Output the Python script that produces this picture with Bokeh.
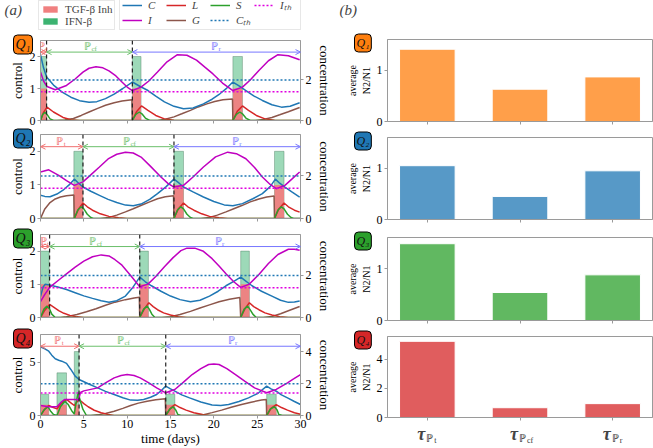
from bokeh.plotting import figure
from bokeh.models import (Range1d, LinearAxis, FixedTicker, Span, Arrow, OpenHead,
                          Label, Legend, LegendItem, Title, CustomJSTickFormatter)
from bokeh.layouts import row, column
from bokeh.embed import file_html
from bokeh.resources import INLINE

NAN = float("nan")

# ---------------------------------------------------------------- data
TIME_TICKS = [0, 5, 10, 15, 20, 25, 30]
T_END = 30
C_TH = 2.0
I_TH = 1.42

# Q1 ---------------------------------------------------------------
Q1_C = [(0, 3.25), (0.35, 2.6), (0.7, 2.15), (1.5, 1.75), (2.5, 1.4), (3.5, 1.15), (4.5, 0.98),
        (5.6, 0.9), (6.5, 0.93), (7.5, 1.08), (8.5, 1.3), (9.5, 1.58), (10.6, 1.9), (11.5, 1.68),
        (12.4, 1.48), (13.3, 1.2), (14.3, 0.92), (15.4, 0.7), (16.5, 0.58), (17.6, 0.62),
        (18.8, 0.82), (19.8, 1.05), (20.7, 1.32), (21.5, 1.6), (22.2, 1.9), (23.0, 1.68),
        (23.7, 1.48), (24.6, 1.22), (25.6, 0.99), (26.7, 0.78), (27.8, 0.66), (28.8, 0.7), (29.9, 0.88)]
Q1_I = [(0, 2.4), (0.35, 1.95), (0.75, 1.68), (1.7, 1.52), (3.0, 1.73), (4.0, 2.05), (4.9, 2.39),
        (5.6, 2.58), (6.4, 2.65), (7.2, 2.6), (7.9, 2.45), (8.7, 2.2), (9.4, 1.9), (10.0, 1.65),
        (10.6, 1.48), (11.6, 1.65), (12.5, 1.95), (13.5, 2.39), (14.6, 2.9), (15.8, 3.25),
        (16.9, 3.22), (18.0, 2.98), (19.0, 2.62), (19.9, 2.3), (21.0, 1.85), (22.2, 1.48),
        (23.3, 1.65), (24.2, 2.0), (25.2, 2.47), (26.3, 2.95), (27.4, 3.25), (28.6, 3.2), (29.9, 3.0)]
Q1_L = [(0, 0), (0.35, 0.4), (0.75, 0.66), (1.5, 0.42), (2.6, 0.15), (3.5, 0.04), (4.5, 0),
        (10.6, 0), (11.1, 0.45), (11.65, 0.72), (12.4, 0.5), (13.3, 0.25), (14.3, 0.08), (15.4, 0.01),
        (16.5, 0), (22.2, 0), (22.7, 0.45), (23.3, 0.72), (24.0, 0.5), (24.9, 0.25), (25.9, 0.08),
        (27.0, 0.01), (28.0, 0), (30, 0)]
Q1_S = [(0, 0), (0.25, 0.3), (0.5, 0.4), (0.75, 0.3), (1.1, 0.08), (1.5, 0), (10.6, 0), (11.0, 0.3),
        (11.4, 0.42), (11.7, 0.33), (12.1, 0.12), (12.6, 0), (22.2, 0), (22.6, 0.3), (23.0, 0.42),
        (23.3, 0.33), (23.7, 0.12), (24.2, 0), (30, 0)]
Q1_G = [(0, 0), (1.9, 0), (2.8, 0.03), (3.8, 0.1), (4.7, 0.25), (5.6, 0.42), (6.6, 0.6), (7.5, 0.75),
        (8.5, 0.88), (9.4, 0.96), (10.55, 1.02), (10.6, 0), (13.5, 0), (14.4, 0.06), (15.4, 0.18),
        (16.3, 0.33), (17.3, 0.5), (18.2, 0.67), (19.2, 0.82), (20.1, 0.94), (21.05, 1.02),
        (22.15, 1.06), (22.2, 0), (24.8, 0), (25.7, 0.05), (26.7, 0.15), (27.6, 0.28), (28.6, 0.43),
        (29.9, 0.64)]
Q1_PULSE_START = [0.0, 10.6, 22.2]
Q1_PULSE_END = [0.7, 11.6, 23.3]
Q1_IFN = [2, 2, 2]
Q1_TGF = [1, 1, 1]
Q1_SWITCH = [0.7, 10.6]

# Q2 ---------------------------------------------------------------
Q2_C = [(0, 1.09), (0.5, 1.04), (1.1, 1.02), (1.9, 1.15), (2.6, 1.33), (3.3, 1.58), (3.9, 1.85),
        (4.4, 1.66), (4.9, 1.48), (5.8, 1.28), (6.8, 1.09), (7.8, 0.9), (8.8, 0.75), (9.8, 0.63),
        (10.7, 0.6), (11.6, 0.68), (12.6, 0.9), (13.5, 1.17), (14.5, 1.5), (15.4, 1.85), (16.0, 1.66),
        (16.5, 1.48), (17.6, 1.25), (18.8, 1.01), (20.0, 0.8), (21.2, 0.64), (22.2, 0.6), (23.3, 0.7),
        (24.5, 0.93), (25.6, 1.17), (26.5, 1.5), (27.1, 1.85), (27.6, 1.66), (28.2, 1.48),
        (29.0, 1.25), (29.9, 1.01)]
Q2_I = [(0, 2.19), (0.95, 2.29), (2.1, 2.03), (3.0, 1.78), (3.9, 1.56), (4.9, 1.72), (5.8, 2.05),
        (6.8, 2.42), (7.8, 2.8), (8.8, 3.02), (9.8, 3.12), (10.7, 3.08), (11.6, 2.89), (12.7, 2.45),
        (13.9, 1.95), (14.7, 1.65), (15.4, 1.48), (16.5, 1.56), (17.6, 1.95), (18.8, 2.42),
        (20.2, 2.9), (21.6, 3.12), (22.6, 3.05), (23.7, 2.81), (24.7, 2.4), (25.6, 1.95), (26.5, 1.6),
        (27.2, 1.4), (28.2, 1.56), (29.0, 1.85), (29.9, 2.19)]
Q2_L = [(0, 0), (3.9, 0), (4.4, 0.45), (4.9, 0.73), (5.4, 0.55), (6.0, 0.39), (6.9, 0.22), (7.9, 0.1),
        (9.0, 0.03), (10, 0), (15.4, 0), (15.9, 0.45), (16.5, 0.73), (17.0, 0.55), (17.7, 0.39),
        (18.6, 0.22), (19.5, 0.1), (20.6, 0.03), (21.6, 0), (27.0, 0), (27.5, 0.45), (28.1, 0.73),
        (28.6, 0.55), (29.3, 0.39), (29.9, 0.3)]
Q2_S = [(0, 0), (3.9, 0), (4.3, 0.4), (4.7, 0.55), (5.0, 0.45), (5.4, 0.2), (5.8, 0.05), (6.1, 0),
        (15.4, 0), (15.8, 0.4), (16.2, 0.55), (16.5, 0.45), (16.9, 0.2), (17.3, 0.05), (17.6, 0),
        (27.0, 0), (27.4, 0.4), (27.8, 0.55), (28.1, 0.45), (28.5, 0.2), (28.9, 0.05), (29.2, 0), (30, 0)]
Q2_G = [(0, 0), (0.5, 0.45), (1.1, 0.75), (1.7, 0.92), (2.3, 1.01), (3.0, 1.07), (3.85, 1.1),
        (3.9, 0), (6.9, 0), (7.9, 0.05), (8.8, 0.16), (9.8, 0.31), (10.7, 0.46), (11.65, 0.62),
        (12.6, 0.78), (13.5, 0.93), (14.4, 1.02), (15.35, 1.07), (15.4, 0), (18.5, 0), (19.5, 0.05),
        (20.4, 0.16), (21.4, 0.31), (22.3, 0.46), (23.3, 0.62), (24.2, 0.78), (25.2, 0.92),
        (26.1, 1.01), (26.95, 1.06), (27.0, 0), (30, 0)]
Q2_PULSE_START = [3.85, 15.4, 27.0]
Q2_PULSE_END = [4.9, 16.5, 28.1]
Q2_IFN = [2, 2, 2]
Q2_TGF = [1, 1, 1]
Q2_SWITCH = [4.9, 15.4]

# Q3 ---------------------------------------------------------------
Q3_C = [(0, 1.0), (0.3, 1.45), (0.55, 1.58), (1.05, 1.55), (2.0, 1.45), (3.0, 1.33), (4.0, 1.18),
        (5.0, 1.03), (6.0, 0.91), (7.0, 0.8), (7.9, 0.73), (8.8, 0.8), (9.8, 1.02), (10.6, 1.4),
        (11.45, 1.92), (12.1, 1.7), (12.8, 1.51), (13.9, 1.25), (15.0, 1.02), (16.1, 0.85),
        (17.3, 0.75), (18.4, 0.82), (19.5, 1.02), (20.5, 1.25), (21.4, 1.51), (22.3, 1.72),
        (23.1, 1.92), (23.8, 1.7), (24.4, 1.51), (25.5, 1.25), (26.7, 1.02), (27.7, 0.82),
        (28.6, 0.72), (29.3, 0.74), (29.9, 0.78)]
Q3_I = [(0, 0.75), (0.5, 1.1), (1.05, 1.43), (2.0, 1.75), (3.0, 2.08), (4.0, 2.4), (5.0, 2.68),
        (6.0, 2.89), (7.0, 2.98), (7.9, 2.93), (8.6, 2.75), (9.4, 2.49), (10.4, 2.0), (11.45, 1.46),
        (12.4, 1.59), (13.3, 1.95), (14.3, 2.41), (15.3, 2.85), (16.2, 3.18), (16.9, 3.3), (17.8, 3.3),
        (18.8, 3.15), (19.8, 2.8), (20.6, 2.45), (21.4, 2.08), (22.3, 1.7), (23.1, 1.43), (24.1, 1.59),
        (25.2, 2.05), (26.3, 2.57), (27.4, 3.0), (28.6, 3.25), (29.3, 3.25), (29.9, 3.2)]
Q3_L = [(0, 0), (0.5, 0.35), (1.05, 0.62), (1.6, 0.47), (2.1, 0.33), (2.7, 0.2), (3.4, 0.1),
        (4.2, 0.03), (5.0, 0), (11.45, 0), (12.0, 0.42), (12.5, 0.7), (13.0, 0.52), (13.5, 0.37),
        (14.2, 0.22), (15.0, 0.12), (15.9, 0.04), (16.9, 0), (23.1, 0), (23.6, 0.42), (24.1, 0.7),
        (24.6, 0.52), (25.2, 0.37), (25.9, 0.22), (26.7, 0.12), (27.6, 0.04), (28.6, 0), (30, 0)]
Q3_S = [(0, 0), (0.4, 0.4), (0.75, 0.54), (1.05, 0.4), (1.3, 0.16), (1.7, 0), (11.45, 0), (11.9, 0.4),
        (12.3, 0.54), (12.55, 0.4), (12.85, 0.16), (13.2, 0), (23.1, 0), (23.5, 0.4), (23.9, 0.54),
        (24.15, 0.4), (24.5, 0.16), (24.9, 0), (30, 0)]
Q3_G = [(0, 0), (2.3, 0), (3.0, 0.04), (4.2, 0.14), (5.3, 0.27), (6.4, 0.42), (7.5, 0.58), (8.6, 0.73),
        (9.8, 0.85), (10.8, 0.93), (11.4, 0.96), (11.45, 0), (14.0, 0), (15.0, 0.04), (16.1, 0.14),
        (17.3, 0.29), (18.4, 0.45), (19.5, 0.6), (20.6, 0.75), (21.8, 0.87), (23.0, 0.95), (23.1, 0),
        (25.7, 0), (26.7, 0.05), (27.7, 0.18), (28.6, 0.32), (29.9, 0.52)]
Q3_PULSE_START = [0.0, 11.45, 23.1]
Q3_PULSE_END = [1.0, 12.45, 24.1]
Q3_IFN = [2, 2, 2]
Q3_TGF = [1, 1, 1]
Q3_SWITCH = [1.05, 11.45]

# Q4 ---------------------------------------------------------------
Q4_C = [(0, 4.33), (0.5, 4.2), (0.95, 4.05), (1.3, 3.8), (1.7, 3.57), (2.1, 3.48), (2.45, 3.42),
        (3.0, 3.28), (3.5, 2.9), (4.0, 2.48), (4.45, 2.27), (5.5, 2.0), (6.6, 1.74), (7.5, 1.52),
        (8.5, 1.32), (9.5, 1.12), (10.4, 0.97), (11.2, 0.96), (11.9, 1.01), (12.7, 1.15), (13.4, 1.32),
        (14.0, 1.6), (14.45, 1.85), (15.0, 1.68), (15.5, 1.53), (16.3, 1.3), (17.2, 1.11), (18.5, 0.85),
        (19.8, 0.66), (20.8, 0.63), (21.7, 0.69), (22.9, 0.88), (24.0, 1.11), (25.1, 1.4), (26.1, 1.85),
        (26.6, 1.68), (27.2, 1.53), (27.8, 1.3), (28.5, 1.11), (29.3, 0.88), (30.0, 0.69)]
Q4_I = [(0, 0.63), (0.95, 0.55), (1.9, 0.55), (2.4, 0.85), (2.8, 1.01), (3.5, 1.0), (4.0, 1.01),
        (4.4, 0.97), (4.6, 1.45), (5.0, 1.55), (6.6, 1.74), (7.5, 2.05), (8.5, 2.37), (9.3, 2.52),
        (10.0, 2.58), (10.8, 2.52), (11.5, 2.37), (12.5, 2.05), (13.4, 1.74), (14.45, 1.43),
        (15.5, 1.64), (16.5, 2.1), (17.5, 2.58), (18.5, 2.95), (19.4, 3.21), (20.0, 3.25), (20.6, 3.21),
        (21.5, 2.95), (22.5, 2.58), (23.6, 2.15), (24.7, 1.74), (26.1, 1.43), (27.2, 1.64),
        (28.5, 2.06), (29.2, 2.3), (30.0, 2.58)]
Q4_L = [(0, 0), (0.5, 0.4), (0.95, 0.63), (1.4, 0.52), (1.9, 0.42), (2.4, 0.75), (3.0, 1.01),
        (3.5, 0.8), (3.9, 0.63), (4.2, 0.85), (4.45, 1.01), (5.0, 0.75), (5.5, 0.55), (6.2, 0.33),
        (7.0, 0.17), (7.8, 0.06), (8.5, 0), (14.45, 0), (15.0, 0.45), (15.5, 0.69), (16.1, 0.5),
        (16.8, 0.34), (17.7, 0.17), (18.7, 0.06), (19.6, 0), (26.1, 0), (26.6, 0.45), (27.2, 0.69),
        (27.8, 0.5), (28.5, 0.34), (29.3, 0.17), (30, 0.08)]
Q4_S = [(0, 0), (0.4, 0.35), (0.87, 0.55), (1.2, 0.25), (1.5, 0.06), (1.9, 0), (2.3, 0.55), (2.8, 0.9),
        (3.2, 0.69), (3.6, 0.3), (3.9, 0.1), (4.1, 0.8), (4.35, 1.43), (4.6, 0.9), (4.9, 0.38),
        (5.3, 0), (14.45, 0), (14.9, 0.4), (15.3, 0.55), (15.6, 0.35), (15.85, 0.06), (16.2, 0),
        (26.1, 0), (26.5, 0.4), (27.0, 0.55), (27.3, 0.35), (27.5, 0.06), (27.9, 0), (30, 0)]
Q4_G = [(0, 0), (5.8, 0), (6.6, 0.04), (7.5, 0.13), (8.5, 0.27), (9.5, 0.45), (10.4, 0.63),
        (11.3, 0.78), (12.3, 0.9), (13.3, 0.99), (14.4, 1.05), (14.45, 0), (17.8, 0), (18.7, 0.04),
        (19.8, 0.18), (20.9, 0.34), (22.0, 0.52), (23.2, 0.69), (24.3, 0.84), (25.5, 0.97),
        (26.05, 1.01), (26.1, 0), (30, 0)]
Q4_PULSE_START = [0.0, 1.9, 3.9, 14.45, 26.1]
Q4_PULSE_END = [0.95, 3.0, 4.45, 15.5, 27.2]
Q4_IFN = [2, 4, 6, 2, 2]
Q4_TGF = [1, 1, 1, 1, 1]
Q4_SWITCH = [4.45, 14.45]

CONTROL_MAX = [2.5, 2.5, 2.5, 7.6]
CONC_MAX = [3.95, 3.95, 3.95, 5.1]
CONTROL_TICKS = [[0, 1, 2], [0, 1, 2], [0, 1, 2], [0, 5]]
CONC_TICKS = [[0, 2], [0, 2], [0, 2], [0, 2, 4]]

# bar charts (b)
BAR_X = [0, 1, 2]
BAR_SUBS = ["t", "cf", "r"]
BAR_Q1 = [1.41, 0.63, 0.87]
BAR_Q2 = [1.05, 0.45, 0.95]
BAR_Q3 = [1.48, 0.54, 0.88]
BAR_Q4 = [5.22, 0.67, 0.95]
BAR_MAX = [1.6, 1.6, 1.6, 5.55]
BAR_TICKS = [[0, 1], [0, 1], [0, 1], [0, 2, 4]]

PANELS = [
    dict(C=Q1_C, I=Q1_I, L=Q1_L, S=Q1_S, G=Q1_G, ps=Q1_PULSE_START, pe=Q1_PULSE_END,
         ifn=Q1_IFN, tgf=Q1_TGF, sw=Q1_SWITCH, bars=BAR_Q1),
    dict(C=Q2_C, I=Q2_I, L=Q2_L, S=Q2_S, G=Q2_G, ps=Q2_PULSE_START, pe=Q2_PULSE_END,
         ifn=Q2_IFN, tgf=Q2_TGF, sw=Q2_SWITCH, bars=BAR_Q2),
    dict(C=Q3_C, I=Q3_I, L=Q3_L, S=Q3_S, G=Q3_G, ps=Q3_PULSE_START, pe=Q3_PULSE_END,
         ifn=Q3_IFN, tgf=Q3_TGF, sw=Q3_SWITCH, bars=BAR_Q3),
    dict(C=Q4_C, I=Q4_I, L=Q4_L, S=Q4_S, G=Q4_G, ps=Q4_PULSE_START, pe=Q4_PULSE_END,
         ifn=Q4_IFN, tgf=Q4_TGF, sw=Q4_SWITCH, bars=BAR_Q4),
]

# ---------------------------------------------------------------- style
SERIF = "Liberation Serif"
SPINE = "#9a9a9a"
C_COL, I_COL, L_COL, G_COL, S_COL = "#1f77b4", "#c000c0", "#d62728", "#8c564b", "#2ca02c"
ITH_COL = "#e000e0"
TGF_COL, IFN_COL = "#f08080", "#3cb371"
BADGE = ["#ff7f0e", "#1f77b4", "#2ca02c", "#d62728"]
SUBS = ["₁", "₂", "₃", "₄"]
PHASE_COL = ["#f07070", "#6cbf6c", "#7777ff"]

TOTAL_W = 653
HEADER_H = 31
LEFT_W, RIGHT_W = 334, 319
L_TOP = [9, 7, 9, 10]
L_FRAME = [80, 84, 83, 81]
L_BOT = [7, 7, 7, 33]
R_TOP = [8, 9, 11, 9]
R_FRAME = [82, 82, 83, 81]
R_BOT = [7, 7, 7, 7]
FOOTER_H = 24


def xs(pts):
    return [a for a, _ in pts]


def ys(pts):
    return [b for _, b in pts]


def style_axis(ax):
    ax.major_label_text_font = SERIF
    ax.major_label_text_font_size = "12px"
    ax.major_label_text_color = "black"
    ax.axis_label_text_font = SERIF
    ax.axis_label_text_font_size = "13px"
    ax.axis_label_text_font_style = "normal"
    ax.axis_label_text_color = "black"
    ax.axis_label_standoff = 2
    ax.major_label_standoff = 2
    ax.major_tick_out = 3
    ax.major_tick_in = 0
    ax.minor_tick_out = 0
    ax.minor_tick_in = 0
    ax.axis_line_color = SPINE
    ax.major_tick_line_color = SPINE


def hide_labels(ax):
    ax.formatter = CustomJSTickFormatter(code="return ''")
    ax.major_label_text_font_size = "1px"
    ax.major_label_standoff = 0


def badge(k, offset, size, standoff):
    return Title(text="Q" + SUBS[k], align="left", vertical_align="bottom", offset=offset,
                 standoff=standoff, text_font=SERIF, text_font_style="italic",
                 text_font_size=size, text_color="#111111",
                 background_fill_color=BADGE[k], background_fill_alpha=1.0,
                 border_line_color="black", border_line_width=1, padding=2, border_radius=4)


# ---------------------------------------------------------------- header (legends, panel letters)
hdr = figure(width=TOTAL_W, height=HEADER_H, x_range=Range1d(0, TOTAL_W), y_range=Range1d(0, HEADER_H),
             output_backend="svg", toolbar_location=None, title=None, min_border=0,
             x_axis_location=None, y_axis_location=None)
hdr.outline_line_color = None
hdr.grid.visible = False
# legend proxies (NaN data: they draw nothing in the plot area)
d_tgf = hdr.quad(left=[NAN], right=[NAN], bottom=[NAN], top=[NAN], fill_color=TGF_COL, line_color=None)
d_ifn = hdr.quad(left=[NAN], right=[NAN], bottom=[NAN], top=[NAN], fill_color=IFN_COL, line_color=None)
d_c = hdr.line(x=[NAN], y=[NAN], line_color=C_COL, line_width=1.5)
d_i = hdr.line(x=[NAN], y=[NAN], line_color=I_COL, line_width=1.5)
d_l = hdr.line(x=[NAN], y=[NAN], line_color=L_COL, line_width=1.5)
d_g = hdr.line(x=[NAN], y=[NAN], line_color=G_COL, line_width=1.5)
d_s = hdr.line(x=[NAN], y=[NAN], line_color=S_COL, line_width=1.5)
d_ct = hdr.line(x=[NAN], y=[NAN], line_color=C_COL, line_width=1.5, line_dash="2 2")
d_it = hdr.line(x=[NAN], y=[NAN], line_color=ITH_COL, line_width=1.5, line_dash="2 2")
lg1 = Legend(items=[LegendItem(label="TGF-β Inh", renderers=[d_tgf]),
                    LegendItem(label="IFN-β", renderers=[d_ifn])],
             location=(38, 1), orientation="vertical")
lg2 = Legend(items=[LegendItem(label="C", renderers=[d_c]),
                    LegendItem(label="I", renderers=[d_i]),
                    LegendItem(label="L", renderers=[d_l]),
                    LegendItem(label="G", renderers=[d_g]),
                    LegendItem(label="S", renderers=[d_s]),
                    LegendItem(label="Cₜₕ", renderers=[d_ct]),
                    LegendItem(label="Iₜₕ", renderers=[d_it])],
             location=(119, 1), orientation="vertical", nrows=2)
for lg in (lg1, lg2):
    lg.label_text_font = SERIF
    lg.label_text_font_size = "11px"
    lg.glyph_height = 8
    lg.label_height = 10
    lg.spacing = 0
    lg.padding = 2
    lg.margin = 0
    lg.label_standoff = 6
    lg.border_line_color = "#d0d0d0"
    lg.background_fill_alpha = 0.9
lg1.glyph_width = 18
lg2.glyph_width = 20
lg2.label_width = 18
lg2.label_text_font_style = "italic"
hdr.add_layout(lg1)
hdr.add_layout(lg2)
hdr.add_layout(Label(x=4, y=HEADER_H - 9, x_units="screen", y_units="screen", text="(a)",
                     text_font=SERIF, text_font_style="italic", text_font_size="15px",
                     text_baseline="middle"))
hdr.add_layout(Label(x=339, y=HEADER_H - 9, x_units="screen", y_units="screen", text="(b)",
                     text_font=SERIF, text_font_style="italic", text_font_size="15px",
                     text_baseline="middle"))


# ---------------------------------------------------------------- left panels
def left_panel(k):
    d = PANELS[k]
    top, fh, bot = L_TOP[k], L_FRAME[k], L_BOT[k]
    cmax = CONTROL_MAX[k]
    p = figure(width=LEFT_W, height=top + fh + bot, x_range=Range1d(0, T_END),
               y_range=Range1d(0, cmax), output_backend="svg", toolbar_location=None, title=None,
               min_border_left=40, min_border_right=28, min_border_top=top, min_border_bottom=bot)
    p.extra_y_ranges = {"conc": Range1d(0, CONC_MAX[k])}
    p.grid.visible = False
    p.outline_line_color = SPINE
    p.xaxis.ticker = FixedTicker(ticks=TIME_TICKS)
    p.yaxis.ticker = FixedTicker(ticks=CONTROL_TICKS[k])
    p.yaxis.axis_label = "control"
    rax = LinearAxis(y_range_name="conc", ticker=FixedTicker(ticks=CONC_TICKS[k]),
                     axis_label="concentration")
    p.add_layout(rax, "right")
    for ax in [p.xaxis[0], p.yaxis[0], rax]:
        style_axis(ax)
    if k < 3:
        hide_labels(p.xaxis[0])
    else:
        p.xaxis.axis_label = "time (days)"
        p.xaxis.axis_label_standoff = 0
        p.xaxis.major_label_standoff = 1

    # control pulses
    p.quad(left=d["ps"], right=d["pe"], bottom=0, top=d["ifn"], fill_color=IFN_COL,
           fill_alpha=0.5, line_color="#3d6b50", line_alpha=0.45, line_width=0.8)
    p.quad(left=d["ps"], right=d["pe"], bottom=0, top=d["tgf"], fill_color=TGF_COL,
           fill_alpha=0.95, line_color=None)

    for key, col in (("G", G_COL), ("L", L_COL), ("S", S_COL), ("C", C_COL), ("I", I_COL)):
        p.line(xs(d[key]), ys(d[key]), y_range_name="conc", line_color=col, line_width=1.5)
    p.line([0, T_END], [C_TH, C_TH], y_range_name="conc", line_color=C_COL,
           line_width=1.5, line_dash="2 2")
    p.line([0, T_END], [I_TH, I_TH], y_range_name="conc", line_color=ITH_COL,
           line_width=1.5, line_dash="2 2")

    # switching times and phases
    for s in d["sw"]:
        p.add_layout(Span(location=s, dimension="height", line_color="#222222",
                          line_dash="4 3", line_width=1.2))
    bounds = [0] + d["sw"] + [T_END]
    ya = 0.855 * cmax
    for j, sub in enumerate(BAR_SUBS):
        col = PHASE_COL[j]
        a, b = bounds[j], bounds[j + 1]
        p.add_layout(Arrow(start=OpenHead(size=5, line_color=col, line_width=1),
                           end=OpenHead(size=5, line_color=col, line_width=1),
                           x_start=a, y_start=ya, x_end=b, y_end=ya,
                           line_color=col, line_width=1))
        mid = (a + b) / 2
        p.add_layout(Label(x=mid, y=ya, text="ℙ", text_color=col, text_font_size="11px",
                           text_align="center", text_baseline="bottom", x_offset=-2, y_offset=0,
                           text_font=SERIF))
        p.add_layout(Label(x=mid, y=ya, text=sub, text_color=col, text_font_size="7px",
                           text_align="left", text_baseline="bottom", x_offset=2, y_offset=-1,
                           text_font=SERIF))

    p.add_layout(badge(k, -27, "14px", -27), "above")
    return p


# ---------------------------------------------------------------- right panels
BAR_RANGE = Range1d(-0.43, 2.43)


def right_panel(k):
    d = PANELS[k]
    top, fh, bot = R_TOP[k], R_FRAME[k], R_BOT[k]
    p = figure(width=RIGHT_W, height=top + fh + bot, x_range=BAR_RANGE,
               y_range=Range1d(0, BAR_MAX[k]), output_backend="svg", toolbar_location=None,
               title=None, min_border_left=53, min_border_right=1, min_border_top=top,
               min_border_bottom=bot)
    p.grid.visible = False
    p.outline_line_color = SPINE
    p.vbar(x=BAR_X, top=d["bars"], width=0.6, fill_color=BADGE[k], fill_alpha=0.75,
           line_color="white", line_width=1)
    p.xaxis.ticker = FixedTicker(ticks=BAR_X)
    p.yaxis.ticker = FixedTicker(ticks=BAR_TICKS[k])
    p.yaxis.axis_label = "average\nN2/N1"
    for ax in [p.xaxis[0], p.yaxis[0]]:
        style_axis(ax)
    p.yaxis.axis_label_text_font_size = "10px"
    hide_labels(p.xaxis[0])
    p.add_layout(badge(k, -33, "12px", -25), "above")
    return p


footer = figure(width=RIGHT_W, height=FOOTER_H, x_range=BAR_RANGE, y_range=Range1d(0, FOOTER_H),
                output_backend="svg", toolbar_location=None, title=None,
                min_border_left=53, min_border_right=1, min_border_top=0, min_border_bottom=0,
                x_axis_location=None, y_axis_location=None)
footer.outline_line_color = None
footer.grid.visible = False
for x, sub in zip(BAR_X, BAR_SUBS):
    footer.add_layout(Label(x=x, y=15, y_units="screen", text="τ", text_font=SERIF,
                            text_font_style="bold italic", text_font_size="18px",
                            text_align="center", text_baseline="middle", x_offset=-6))
    footer.add_layout(Label(x=x, y=11, y_units="screen", text="ℙ", text_font=SERIF,
                            text_font_size="11px", text_align="left", text_baseline="middle",
                            x_offset=-1, text_color="#333333"))
    footer.add_layout(Label(x=x, y=8, y_units="screen", text=sub, text_font=SERIF,
                            text_font_size="8px", text_align="left", text_baseline="middle",
                            x_offset=7, text_color="#333333"))

left = column([left_panel(k) for k in range(4)], spacing=0)
right = column([right_panel(k) for k in range(4)] + [footer], spacing=0)
layout = column([hdr, row([left, right], spacing=0)], spacing=0)

open("out.html", "w").write(file_html(layout, INLINE))
